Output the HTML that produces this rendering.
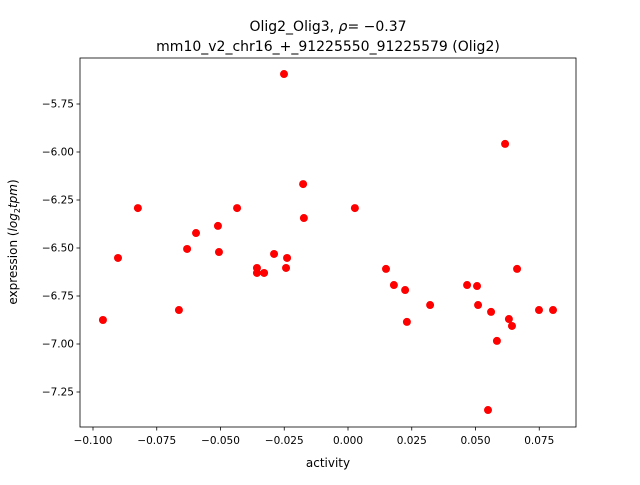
<!DOCTYPE html>
<html><head><meta charset="utf-8"><style>
body{margin:0;background:#fff;}
svg text{font-family:"DejaVu Sans","Liberation Sans",sans-serif;fill:#000;}
</style></head><body>
<svg id="chart" width="640" height="480" xmlns="http://www.w3.org/2000/svg">
<text x="328" y="31" font-size="14" text-anchor="middle">Olig2_Olig3, <tspan font-style="italic">ρ</tspan>= −0.37</text>
<text x="328" y="51" font-size="14" text-anchor="middle">mm10_v2_chr16_+_91225550_91225579 (Olig2)</text>
<g id="plot"></g>
<text x="328" y="467" font-size="12" text-anchor="middle">activity</text>
<text transform="translate(17,242) rotate(-90)" font-size="12" text-anchor="middle">expression (<tspan font-style="italic">log</tspan><tspan font-size="8" dy="3">2</tspan><tspan dy="-3" font-style="italic">tpm</tspan>)</text>
</svg>
<script>
const xValues=[-0.0961,-0.0902,-0.0824,-0.0663,-0.0631,-0.0596,-0.0510,-0.0506,-0.0435,-0.0357,-0.0357,-0.0329,-0.0290,-0.0251,-0.0239,-0.0243,-0.0176,-0.0173,0.0027,0.0149,0.0180,0.0224,0.0231,0.0322,0.0467,0.0506,0.0510,0.0561,0.0549,0.0584,0.0616,0.0631,0.0643,0.0663,0.0749,0.0804];
const yValues=[-6.875,-6.552,-6.292,-6.823,-6.505,-6.422,-6.385,-6.521,-6.292,-6.604,-6.630,-6.630,-6.531,-5.594,-6.552,-6.604,-6.167,-6.344,-6.292,-6.609,-6.693,-6.719,-6.885,-6.797,-6.693,-6.698,-6.797,-6.833,-7.344,-6.984,-5.958,-6.870,-6.906,-6.609,-6.823,-6.823];
const xTicks=[-0.1,-0.075,-0.05,-0.025,0,0.025,0.05,0.075];
const xTickLabels=["−0.100","−0.075","−0.050","−0.025","0.000","0.025","0.050","0.075"];
const yTicks=[-5.75,-6.0,-6.25,-6.5,-6.75,-7.0,-7.25];
const yTickLabels=["−5.75","−6.00","−6.25","−6.50","−6.75","−7.00","−7.25"];
const L=80,R=576,T=58,B=427;
function sx(v){return 348+v*2550;}
function sy(v){return 104-(v+5.75)*192;}
const NS="http://www.w3.org/2000/svg";
const g=document.getElementById('plot');
function mk(t,a){const e=document.createElementNS(NS,t);for(const k in a)e.setAttribute(k,a[k]);g.appendChild(e);return e;}
xTicks.forEach((v,i)=>{
  const l=mk('line',{x1:sx(v),x2:sx(v),y1:B,y2:B+3.5,stroke:'#000','stroke-width':0.8});
  
  
  const t=mk('text',{x:sx(v),y:B+17,'font-size':10.5,'text-anchor':'middle'});
  t.textContent=xTickLabels[i];
  
  
});
yTicks.forEach((v,i)=>{
  const l=mk('line',{x1:L-3.5,x2:L,y1:sy(v),y2:sy(v),stroke:'#000','stroke-width':0.8});
  
  
  const t=mk('text',{x:L-6,y:sy(v)+3.5,'font-size':10.5,'text-anchor':'end'});
  t.textContent=yTickLabels[i];
  
  
});
xValues.forEach((v,i)=>{
  const c=mk('circle',{cx:sx(v),cy:sy(yValues[i]),r:4,fill:'#ff0000'});
  
  
});
const f=mk('rect',{x:L,y:T,width:R-L,height:B-T,fill:'none',stroke:'#000','stroke-width':0.8});


</script>
</body></html>
